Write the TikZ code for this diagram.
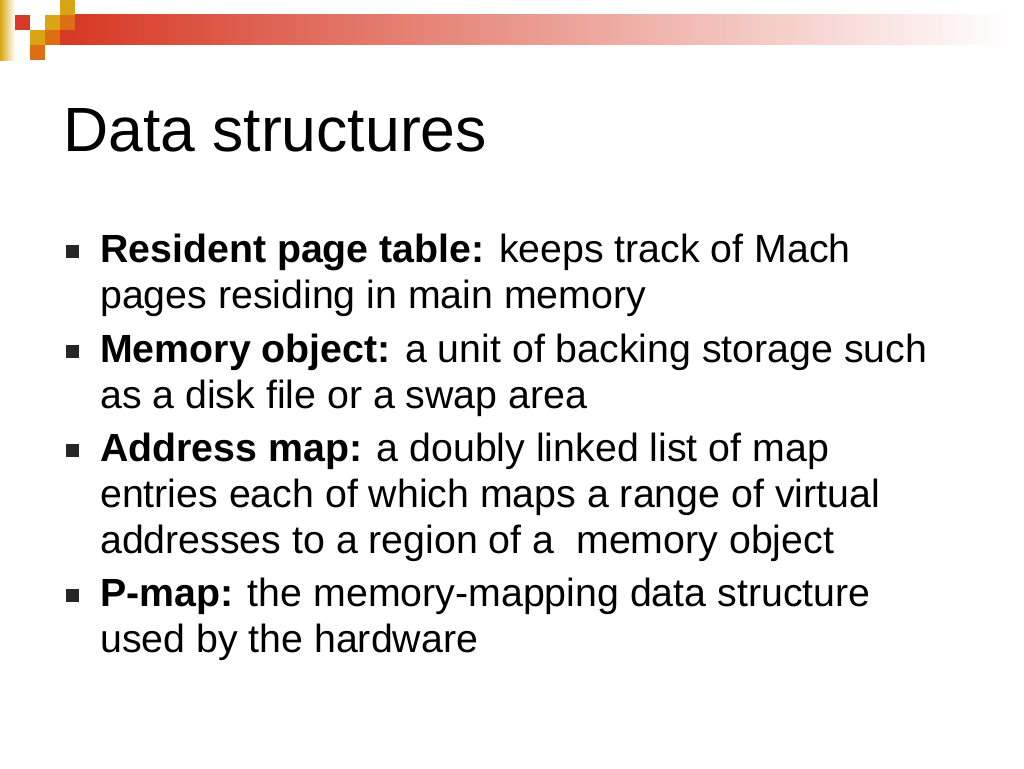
\documentclass[tikz,border=0pt]{standalone}
\usepackage{fontspec}
\setmainfont{Liberation Sans}
\begin{document}
\begin{tikzpicture}[x=1pt,y=-1pt,
  body/.style={anchor=base west,inner sep=0pt,font=\fontsize{39.3}{46}\selectfont},
  bul/.style={fill=black!85,minimum size=13,inner sep=0pt}]
\useasboundingbox (0,0) rectangle (1024,768);
\fill[white] (0,0) rectangle (1024,768);
\definecolor{dred}{RGB}{214,58,38}
\definecolor{dgold}{RGB}{218,165,20}
\definecolor{dorange}{RGB}{222,110,20}
\shade[left color=dgold,right color=white] (0,0) rectangle (15,60);
\shade[left color=dred,right color=white] (75,15) rectangle (1010,45);
\fill[dred] (15,15) rectangle (30,30);
\fill[dgold] (45,15) rectangle (60,30);
\fill[dgold] (60,0) rectangle (75,15);
\fill[dorange] (60,15) rectangle (75,30);
\fill[dgold] (30,30) rectangle (45,45);
\fill[dorange] (45,30) rectangle (60,45);
\fill[dred] (60,30) rectangle (75,45);
\fill[dorange] (30,45) rectangle (45,60);
\node[anchor=base west,inner sep=0pt,font=\fontsize{62.5}{70}\selectfont] (title) at (63,151) {Data structures};
\node[body] (l1) at (100,262) {\textbf{Resident page table:} keeps track of Mach};
\node[body] (l2) at (100,308) {pages residing in main memory};
\node[body] (l3) at (100,362) {\textbf{Memory object:} a unit of backing storage such};
\node[body] (l4) at (100,408) {as a disk file or a swap area};
\node[body] (l5) at (100,461) {\textbf{Address map:} a doubly linked list of map};
\node[body] (l6) at (100,507) {entries each of which maps a range of virtual};
\node[body] (l7) at (100,553) {addresses to a region of a\ \ memory object};
\node[body] (l8) at (100,606) {\textbf{P-map:} the memory-mapping data structure};
\node[body] (l9) at (100,652) {used by the hardware};
\node[bul] (b1) at (72,251) {};
\node[bul] (b2) at (72,351) {};
\node[bul] (b3) at (72,450) {};
\node[bul] (b4) at (72,595) {};
\end{tikzpicture}
\end{document}
